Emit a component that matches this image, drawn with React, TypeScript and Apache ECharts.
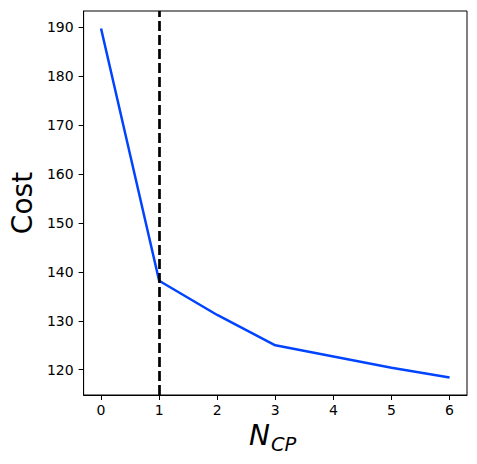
import React, { useEffect, useRef } from "react";
import * as echarts from "echarts";

const nCP = [0, 1, 2, 3, 4, 5, 6];
const cost = [189.8, 138.2, 131.2, 125.0, 122.7, 120.4, 118.4];
const xTicks = [0, 1, 2, 3, 4, 5, 6];
const yTicks = [120, 130, 140, 150, 160, 170, 180, 190];
const chosenN = 1;

const FONT = "DejaVu Sans";

export default function App() {
  const ref = useRef<HTMLDivElement>(null);
  useEffect(() => {
    document.body.style.margin = "0";
    if (!ref.current) return;
    const chart = echarts.init(ref.current, null, { renderer: "svg" });
    const lo = Math.min(...cost);
    const hi = Math.max(...cost);
    const pad = (hi - lo) * 0.05;
    const xPad = (nCP[nCP.length - 1] - nCP[0]) * 0.05;
    chart.setOption({
      animation: false,
      backgroundColor: "#ffffff",
      grid: {
        left: 80,
        right: 10,
        top: 11,
        bottom: 69,
        show: true,
        borderColor: "#000",
        borderWidth: 1,
        backgroundColor: "transparent",
      },
      xAxis: {
        type: "value",
        min: nCP[0] - xPad,
        max: nCP[nCP.length - 1] + xPad,
        splitLine: { show: false },
        axisLine: { show: true, onZero: false, lineStyle: { color: "#000", width: 1 } },
        axisTick: {
          show: true,
          inside: false,
          length: 5,
          customValues: xTicks,
          lineStyle: { color: "#000", width: 1 },
        },
        axisLabel: {
          customValues: xTicks,
          color: "#000",
          fontFamily: FONT,
          fontSize: 14,
          margin: 8,
        },
      },
      yAxis: {
        type: "value",
        min: lo - pad,
        max: hi + pad,
        name: "Cost",
        nameLocation: "middle",
        nameGap: 42,
        nameTextStyle: { fontFamily: FONT, fontSize: 28, color: "#000" },
        splitLine: { show: false },
        axisLine: { show: true, onZero: false, lineStyle: { color: "#000", width: 1 } },
        axisTick: {
          show: true,
          inside: false,
          length: 5,
          customValues: yTicks,
          lineStyle: { color: "#000", width: 1 },
        },
        axisLabel: {
          customValues: yTicks,
          color: "#000",
          fontFamily: FONT,
          fontSize: 14,
          margin: 10,
        },
      },
      graphic: [
        {
          type: "text",
          left: 249,
          top: 421,
          style: {
            text: "N",
            fontFamily: FONT,
            fontStyle: "italic",
            fontSize: 28,
            fill: "#000",
          },
        },
        {
          type: "text",
          left: 271,
          top: 434,
          style: {
            text: "CP",
            fontFamily: FONT,
            fontStyle: "italic",
            fontSize: 19.5,
            fill: "#000",
          },
        },
      ],
      series: [
        {
          type: "line",
          data: nCP.map((x, i) => [x, cost[i]]),
          showSymbol: false,
          symbol: "none",
          lineStyle: { color: "#0044ff", width: 2.5 },
          z: 2,
          markLine: {
            silent: true,
            symbol: "none",
            label: { show: false },
            lineStyle: { color: "#000", width: 2.7, type: [10, 4] },
            data: [{ xAxis: chosenN }],
            z: 3,
          },
        },
      ],
    });
    return () => chart.dispose();
  }, []);
  return <div ref={ref} style={{ width: 477, height: 464 }} />;
}
